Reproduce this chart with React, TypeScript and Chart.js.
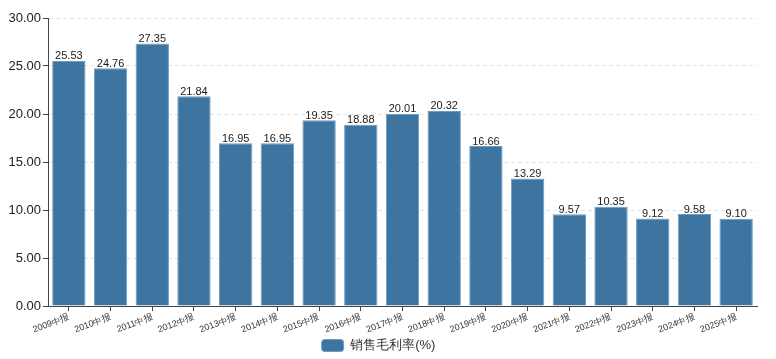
import React, { useEffect, useRef } from "react";
import { Chart, registerables } from "chart.js";

Chart.register(...registerables);

const categories = ["2009中报","2010中报","2011中报","2012中报","2013中报","2014中报","2015中报","2016中报","2017中报","2018中报","2019中报","2020中报","2021中报","2022中报","2023中报","2024中报","2025中报"];
const grossMargin = [25.53,24.76,27.35,21.84,16.95,16.95,19.35,18.88,20.01,20.32,16.66,13.29,9.57,10.35,9.12,9.58,9.10];
const seriesName = "销售毛利率(%)";

const FONT = "'Liberation Sans', Arial, Helvetica, sans-serif";

const valueLabels = {
  id: "valueLabels",
  afterDatasetsDraw(chart: any) {
    const ctx = chart.ctx;
    const meta = chart.getDatasetMeta(0);
    ctx.save();
    ctx.font = `11px ${FONT}`;
    ctx.fillStyle = "#222";
    ctx.textAlign = "center";
    ctx.textBaseline = "bottom";
    meta.data.forEach((bar: any, i: number) => {
      const v = chart.data.datasets[0].data[i] as number;
      ctx.fillText(v.toFixed(2), bar.x, bar.y + 1);
    });
    ctx.restore();
  },
};

export default function App() {
  const ref = useRef<HTMLCanvasElement>(null);
  useEffect(() => {
    document.body.style.margin = "0";
    const chart = new Chart(ref.current!, {
      type: "bar",
      data: {
        labels: categories,
        datasets: [
          {
            label: seriesName,
            data: grossMargin,
            backgroundColor: "#3d74a0",
            borderColor: "#6d9cc2",
            borderWidth: 1,
            categoryPercentage: 0.8,
            barPercentage: 1,
          },
        ],
      },
      options: {
        animation: false,
        responsive: false,
        devicePixelRatio: 1,
        layout: { padding: { top: 18, right: 19, left: 0, bottom: -3 } },
        plugins: {
          tooltip: { enabled: false },
          legend: {
            position: "bottom",
            labels: {
              font: { family: FONT, size: 13 },
              color: "#333",
              boxWidth: 22,
              boxHeight: 12,
              useBorderRadius: true,
              borderRadius: 3,
              padding: 5,
            },
          },
        },
        scales: {
          x: {
            grid: {
              offset: false,
              drawOnChartArea: false,
              drawTicks: true,
              tickLength: 5,
              tickColor: "#444",
            },
            border: { color: "#444", width: 1 },
            ticks: {
              font: { family: FONT, size: 9 },
              color: "#333",
              maxRotation: 20,
              minRotation: 20,
              autoSkip: false,
              padding: 1,
            },
            afterFit(scale: any) {
              scale.height = 28;
            },
          },
          y: {
            min: 0,
            max: 30,
            ticks: {
              stepSize: 5,
              font: { family: FONT, size: 13 },
              color: "#222",
              padding: 2,
              callback: (v: any) => Number(v).toFixed(2),
            },
            grid: {
              color: "#e3e3e3",
              tickColor: "#444",
              tickLength: 5,
              tickBorderDash: [],
            },
            border: { color: "#444", width: 1, dash: [4, 3] },
            afterFit(scale: any) {
              scale.width = 48;
            },
          },
        },
      },
      plugins: [valueLabels],
    });
    return () => chart.destroy();
  }, []);
  return <canvas ref={ref} width={776} height={359} style={{ display: "block" }} />;
}
